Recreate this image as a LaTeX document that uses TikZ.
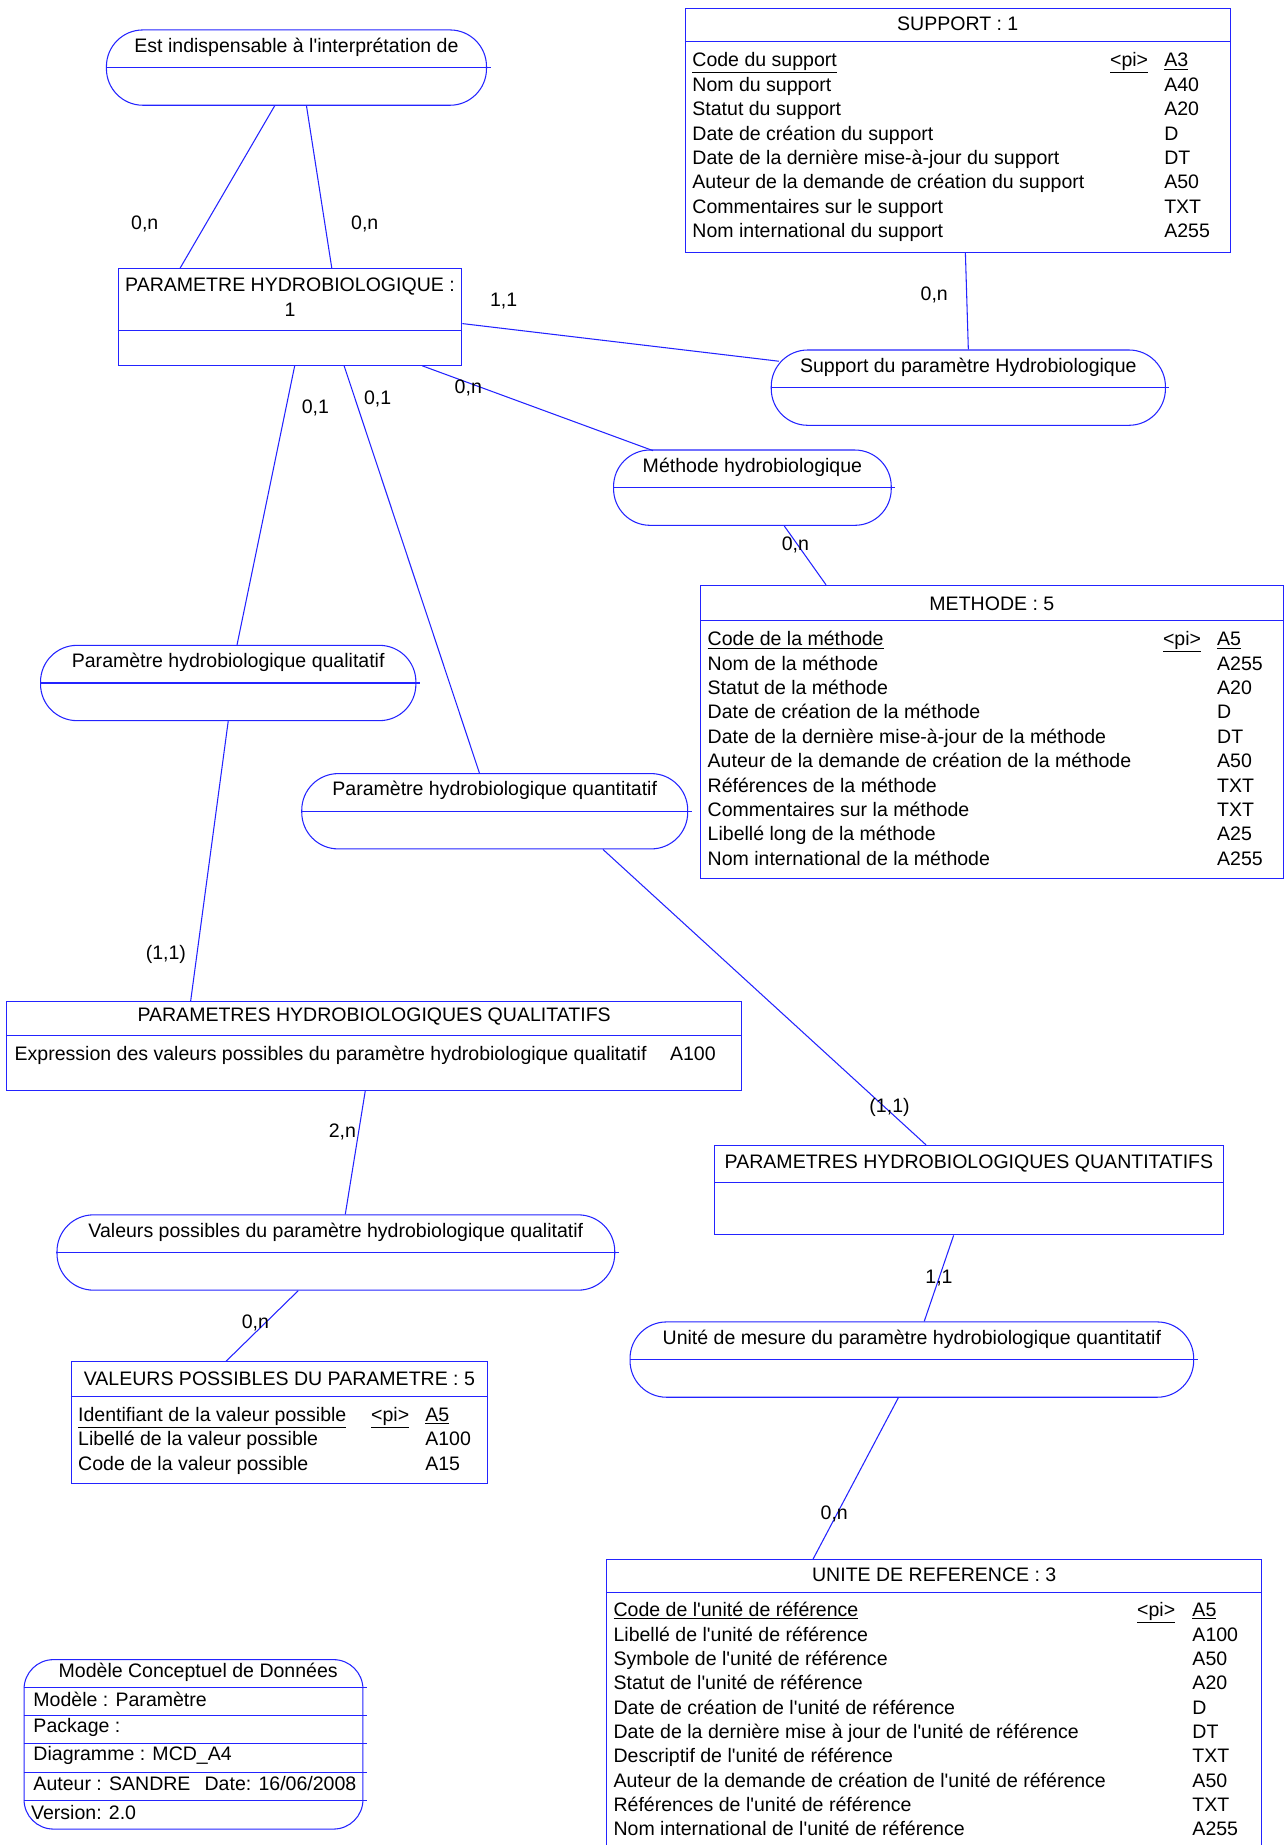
\documentclass[tikz,border=0pt]{standalone}
\usepackage{fontspec}
\setmainfont{Liberation Sans}[Ligatures=TeXOff]
\usepackage{array}
\usetikzlibrary{calc}
\definecolor{mcdblue}{RGB}{35,35,255}

\begin{document}
\begin{tikzpicture}[x=1pt,y=-1pt,line width=0.9pt,
    font=\fontsize{16.6}{20.7}\selectfont,
    entity box/.style={draw=mcdblue,rectangle,anchor=north west,inner sep=0pt},
    assoc node/.style={draw=mcdblue,rectangle,rounded corners=31pt,anchor=north west,
      inner sep=0pt,minimum height=64pt},
    title/.style={align=center,inner sep=0pt},
    attr list/.style={anchor=north west,inner sep=0pt},
    card label/.style={inner sep=0pt},
    every edge/.style={draw=mcdblue,line width=0.9pt}]
    \useasboundingbox (0,0) rectangle (1092,1568);

    % associations
    \node[assoc node,minimum width=323pt] (est) at (90,25) {};
    \node[assoc node,minimum width=335pt] (supp) at (655,297) {};
    \node[assoc node,minimum width=236pt] (meth) at (521,382) {};
    \node[assoc node,minimum width=319pt] (qual) at (34,548) {};
    \node[assoc node,minimum width=328pt] (quant) at (256,657) {};
    \node[assoc node,minimum width=474pt] (valp) at (48,1032) {};
    \node[assoc node,minimum width=479pt] (unit) at (535,1123) {};
    \foreach \a in {est,supp,meth,qual,quant,valp,unit}
      \draw[mcdblue] (\a.west) -- ([xshift=3pt]\a.east);

    \node[title] at ([yshift=-15pt]est.north) {Est indispensable à l'interprétation de};
    \node[title] at ([yshift=-15pt]supp.north) {Support du paramètre Hydrobiologique};
    \node[title] at ([yshift=-15pt]meth.north) {Méthode hydrobiologique};
    \node[title] at ([yshift=-15pt]qual.north) {Paramètre hydrobiologique qualitatif};
    \node[title] at ([yshift=-15pt]quant.north) {Paramètre hydrobiologique quantitatif};
    \node[title] at ([yshift=-15pt]valp.north) {Valeurs possibles du paramètre hydrobiologique qualitatif};
    \node[title] at ([yshift=-15pt]unit.north) {Unité de mesure du paramètre hydrobiologique quantitatif};

    % entities
    \node[entity box,minimum width=292pt,minimum height=82pt] (param) at (100,228) {};
    \draw[mcdblue] ([yshift=-53pt]param.north west) -- ([yshift=-53pt]param.north east);
    \node[title] at ([yshift=-24.5pt]param.north) {PARAMETRE HYDROBIOLOGIQUE :\\1};

    \node[entity box,minimum width=463pt,minimum height=207pt] (support) at (582,7) {};
    \draw[mcdblue] ([yshift=-28pt]support.north west) -- ([yshift=-28pt]support.north east);
    \node[title] at ([yshift=-13pt]support.north) {SUPPORT : 1};
    \node[attr list] (support attrs) at ([xshift=6pt,yshift=-35pt]support.north west) {%
      \begin{tabular}{@{}w{l}{355pt}@{}w{l}{46pt}@{}l@{}}
        \underline{Code du support} & \underline{<pi>} & \underline{A3}\\
        Nom du support & & A40\\
        Statut du support & & A20\\
        Date de création du support & & D\\
        Date de la dernière mise-à-jour du support & & DT\\
        Auteur de la demande de création du support & & A50\\
        Commentaires sur le support & & TXT\\
        Nom international du support & & A255
      \end{tabular}};

    \node[entity box,minimum width=495pt,minimum height=249pt] (methode) at (595,497) {};
    \draw[mcdblue] ([yshift=-30pt]methode.north west) -- ([yshift=-30pt]methode.north east);
    \node[title] at ([yshift=-16pt]methode.north) {METHODE : 5};
    \node[attr list] (methode attrs) at ([xshift=6pt,yshift=-37pt]methode.north west) {%
      \begin{tabular}{@{}w{l}{387pt}@{}w{l}{46pt}@{}l@{}}
        \underline{Code de la méthode} & \underline{<pi>} & \underline{A5}\\
        Nom de la méthode & & A255\\
        Statut de la méthode & & A20\\
        Date de création de la méthode & & D\\
        Date de la dernière mise-à-jour de la méthode & & DT\\
        Auteur de la demande de création de la méthode & & A50\\
        Références de la méthode & & TXT\\
        Commentaires sur la méthode & & TXT\\
        Libellé long de la méthode & & A25\\
        Nom international de la méthode & & A255
      \end{tabular}};

    \node[entity box,minimum width=625pt,minimum height=75pt] (phql) at (5,851) {};
    \draw[mcdblue] ([yshift=-29pt]phql.north west) -- ([yshift=-29pt]phql.north east);
    \node[title] at ([yshift=-13pt]phql.north) {PARAMETRES HYDROBIOLOGIQUES QUALITATIFS};
    \node[attr list] (phql attrs) at ([xshift=7pt,yshift=-35pt]phql.north west) {%
      \begin{tabular}{@{}w{l}{557pt}@{}l@{}}
        Expression des valeurs possibles du paramètre hydrobiologique qualitatif & A100
      \end{tabular}};

    \node[entity box,minimum width=354pt,minimum height=103pt] (valeurs) at (60,1157) {};
    \draw[mcdblue] ([yshift=-30pt]valeurs.north west) -- ([yshift=-30pt]valeurs.north east);
    \node[title] at ([yshift=-15pt]valeurs.north) {VALEURS POSSIBLES DU PARAMETRE : 5};
    \node[attr list] (valeurs attrs) at ([xshift=6pt,yshift=-36pt]valeurs.north west) {%
      \begin{tabular}{@{}w{l}{249pt}@{}w{l}{46pt}@{}l@{}}
        \underline{Identifiant de la valeur possible} & \underline{<pi>} & \underline{A5}\\
        Libellé de la valeur possible & & A100\\
        Code de la valeur possible & & A15
      \end{tabular}};

    \node[entity box,minimum width=432pt,minimum height=76pt] (phqt) at (607,973) {};
    \draw[mcdblue] ([yshift=-32pt]phqt.north west) -- ([yshift=-32pt]phqt.north east);
    \node[title] at ([yshift=-16pt]phqt.north) {PARAMETRES HYDROBIOLOGIQUES QUANTITATIFS};

    \node[entity box,minimum width=557pt,minimum height=270pt] (unite) at (515,1325) {};
    \draw[mcdblue] ([yshift=-28pt]unite.north west) -- ([yshift=-28pt]unite.north east);
    \node[title] at ([yshift=-13pt]unite.north) {UNITE DE REFERENCE : 3};
    \node[attr list] (unite attrs) at ([xshift=6pt,yshift=-34pt]unite.north west) {%
      \begin{tabular}{@{}w{l}{445pt}@{}w{l}{47pt}@{}l@{}}
        \underline{Code de l'unité de référence} & \underline{<pi>} & \underline{A5}\\
        Libellé de l'unité de référence & & A100\\
        Symbole de l'unité de référence & & A50\\
        Statut de l'unité de référence & & A20\\
        Date de création de l'unité de référence & & D\\
        Date de la dernière mise à jour de l'unité de référence & & DT\\
        Descriptif de l'unité de référence & & TXT\\
        Auteur de la demande de création de l'unité de référence & & A50\\
        Références de l'unité de référence & & TXT\\
        Nom international de l'unité de référence & & A255
      \end{tabular}};

    % links
    \path
      ([xshift=-18.5pt]est.south) edge ([xshift=53pt]param.north west)
      ([xshift=8.5pt]est.south) edge ([xshift=182pt]param.north west)
      ([yshift=-47pt]param.north east) edge ([xshift=7pt,yshift=-10pt]supp.north west)
      ([xshift=6.5pt]support.south) edge (supp.north)
      ([xshift=-34pt]param.south east) edge ([xshift=34pt,yshift=-1pt]meth.north west)
      ([xshift=27pt]meth.south) edge ([xshift=107pt]methode.north west)
      ([xshift=4pt]param.south) edge ([xshift=7.5pt]qual.north)
      (qual.south) edge ([xshift=157pt]phql.north west)
      ([xshift=46pt]param.south) edge ([xshift=-13pt]quant.north)
      ([xshift=92pt]quant.south) edge ([xshift=180pt]phqt.north west)
      ([xshift=-7.5pt]phql.south) edge ([xshift=8pt]valp.north)
      ([xshift=-32pt]valp.south) edge ([xshift=132pt]valeurs.north west)
      ([xshift=-13pt]phqt.south) edge ([xshift=10.5pt]unit.north)
      ([xshift=-11.5pt]unit.south) edge ([xshift=176pt]unite.north west);

    % cardinalities
    \node[card label] at (123,190) {0,n};
    \node[card label] at (310,190) {0,n};
    \node[card label] at (428,256) {1,1};
    \node[card label] at (794,251) {0,n};
    \node[card label] at (398,330) {0,n};
    \node[card label] at (676,463) {0,n};
    \node[card label] at (268,347) {0,1};
    \node[card label] at (321,339) {0,1};
    \node[card label] at (141,811) {(1,1)};
    \node[card label] at (756,941) {(1,1)};
    \node[card label] at (291,962) {2,n};
    \node[card label] at (217,1124) {0,n};
    \node[card label] at (798,1086) {1,1};
    \node[card label] at (709,1287) {0,n};

    % legend
    \node[draw=mcdblue,rounded corners=25pt,anchor=north west,inner sep=0pt,
      minimum width=288pt,minimum height=144pt] (legend) at (20,1410) {};
    \foreach \dy in {24,48,72,96,120}
      \draw[mcdblue] ([yshift=-\dy pt]legend.north west) -- ([xshift=3pt,yshift=-\dy pt]legend.north east);
    \node[title] at ([xshift=4pt,yshift=-11pt]legend.north) {Modèle Conceptuel de Données};
    \node[anchor=west,inner sep=0pt] at ([xshift=8pt,yshift=-34pt]legend.north west) {Modèle : Paramètre};
    \node[anchor=west,inner sep=0pt] at ([xshift=8pt,yshift=-58pt]legend.north west) {Package :};
    \node[anchor=west,inner sep=0pt] at ([xshift=8pt,yshift=-82pt]legend.north west) {Diagramme : MCD\_A4};
    \node[anchor=west,inner sep=0pt] at ([xshift=8pt,yshift=-106pt]legend.north west) {Auteur : SANDRE\hspace{12pt}Date: 16/06/2008};
    \node[anchor=west,inner sep=0pt] at ([xshift=6pt,yshift=-130pt]legend.north west) {Version: 2.0};
  \end{tikzpicture}
\end{document}
